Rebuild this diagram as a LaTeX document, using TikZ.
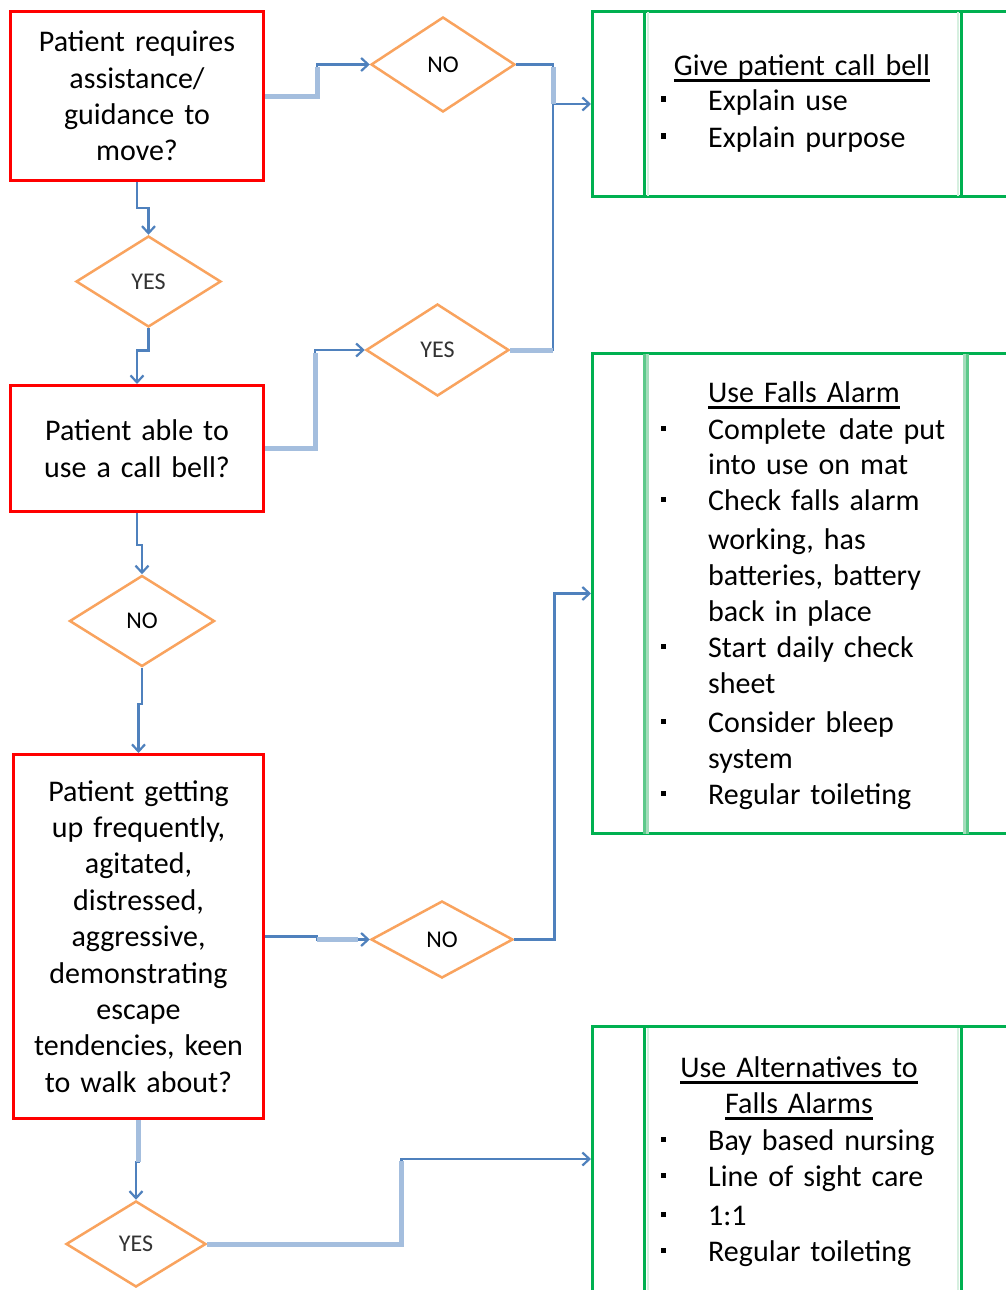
\documentclass[tikz,border=0pt]{standalone}
\usepackage{fontspec}
\setmainfont{Carlito}
\usetikzlibrary{shapes.geometric,arrows.meta,calc}

\definecolor{boxred}{HTML}{FF0000}
\definecolor{boxgreen}{HTML}{00B050}
\definecolor{greenmid}{HTML}{5CC98A}
\definecolor{greenpale}{HTML}{A3DDBB}
\definecolor{decorange}{HTML}{F9A35E}
\definecolor{flowblue}{HTML}{4F81BD}
\definecolor{flowpale}{HTML}{A4BEDE}

% underlined heading with a heavy rule
\newcommand\ulbox[1]{\leavevmode\setbox0\hbox{#1}\rlap{\rule[-6.5pt]{\wd0}{3pt}}\box0}
% square bullet and the matching indent for wrapped lines
\newcommand\bsq{\makebox[47.5pt][l]{\rule[8.5pt]{5pt}{5pt}}}
\newcommand\cont{\hspace*{47.5pt}}

\begin{document}
\begin{tikzpicture}[x=1pt,y=-1pt,
  question/.style={draw=boxred, line width=3pt, rectangle, inner sep=0pt,
    text width=250pt, align=center, font=\fontsize{30}{36.4}\selectfont},
  decision/.style={draw=decorange, line width=2.5pt, diamond, inner sep=0pt,
    font=\fontsize{24}{28}\selectfont},
  actionbox/.style={draw=boxgreen, line width=3pt, rectangle, inner sep=0pt,
    minimum width=447.5pt},
  heading/.style={anchor=base, inner sep=0pt, text width=300pt, align=center,
    font=\fontsize{30}{36}\selectfont},
  steps/.style={anchor=base west, inner sep=0pt, text width=320pt, align=left,
    font=\fontsize{30}{36}\selectfont},
  conn/.style={draw=flowblue, line width=2.5pt},
  connpale/.style={draw=flowpale, line width=5pt},
  tip/.style={-{Straight Barb[length=7pt,width=13pt,line width=2.2pt]}},
]
\useasboundingbox[fill=white] (0,0) rectangle (1006,1290);

% ---- questions ----
\node[question, minimum width=253pt, minimum height=169pt] (b1) at (137,96)
  {Patient requires\\assistance/\\guidance to\\move?};
\node[question, minimum width=253pt, minimum height=126pt] (b2) at (137,448.5)
  {Patient able to\\use a call bell?};
\node[question, minimum width=250pt, minimum height=364pt] (b3) at (138.5,936.5)
  {Patient getting\\up frequently,\\agitated,\\distressed,\\aggressive,\\demonstrating\\escape\\tendencies, keen\\to walk about?};

% ---- decisions ----
\node[decision, minimum width=144pt, minimum height=95pt] (d1) at (443,64.5) {NO};
\node[decision, minimum width=145pt, minimum height=91pt, text=black!80] (d2) at (148.5,281.5) {YES};
\node[decision, minimum width=143pt, minimum height=92pt, text=black!80] (d3) at (437.5,350) {YES};
\node[decision, minimum width=145pt, minimum height=91pt] (d4) at (142,621) {NO};
\node[decision, minimum width=142pt, minimum height=77pt] (d5) at (442,939.5) {NO};
\node[decision, minimum width=140pt, minimum height=86pt, text=black!80] (d6) at (136,1244) {YES};

% ---- action boxes ----
\node[actionbox, minimum height=185pt] (g1) at (816.25,104) {};
\node[actionbox, minimum height=480pt] (g2) at (816.25,593.5) {};
\node[actionbox, minimum height=265pt] (g3) at (816.25,1159) {};

% column dividers
\draw[greenpale!45, line width=2pt] (647.5,12) -- (647.5,196);
\draw[greenpale!45, line width=2pt] (957.5,12) -- (957.5,196);
\draw[boxgreen, line width=3pt] (644,11.5) -- (644,196.5);
\draw[boxgreen, line width=3pt] (961,11.5) -- (961,196.5);

\draw[greenmid, line width=3pt] (644,353.5) -- (644,833.5);
\draw[greenpale, line width=3.5pt] (647.3,353.5) -- (647.3,833.5);
\draw[greenpale, line width=3pt] (964.5,353.5) -- (964.5,833.5);
\draw[greenmid, line width=3pt] (967.5,353.5) -- (967.5,833.5);

\draw[greenpale!45, line width=2pt] (647.5,1028) -- (647.5,1290);
\draw[greenpale!45, line width=2pt] (957.5,1028) -- (957.5,1290);
\draw[boxgreen, line width=3pt] (644,1026.5) -- (644,1291.5);
\draw[boxgreen, line width=3pt] (961,1026.5) -- (961,1291.5);

% ---- action texts ----
\node[heading] (t1) at (802,76) {\ulbox{Give patient call bell}};
\node[steps] (l1) at (660.5,110) {\bsq Explain use\\[1pt]\bsq Explain purpose};

\node[heading] (t2) at (804,402.7) {\ulbox{Use Falls Alarm}};
\node[steps] (l2) at (660.5,439)
  {\bsq Complete\hspace{3pt} date put\\[-1pt]
   \cont into use on mat\\
   \bsq Check falls alarm\\[3pt]
   \cont working, has\\
   \cont batteries, battery\\
   \cont back in place\\
   \bsq Start daily check\\
   \cont sheet\\[3pt]
   \bsq Consider bleep\\
   \cont system\\
   \bsq Regular toileting};

\node[heading] (t3) at (799,1077) {\ulbox{Use Alternatives to}\\\ulbox{Falls Alarms}};
\node[steps] (l3) at (660.5,1150)
  {\bsq Bay based nursing\\
   \bsq Line of sight care\\[3pt]
   \bsq 1:1\\
   \bsq Regular toileting};

% ---- connectors ----
\coordinate (m1) at (553,104);

\draw[conn,tip] (b1.east) -- ++(52,0) |- (d1.west);
\draw[connpale] (b1.east) -- ++(52,0) -- ++(0,-29);

\draw[conn] (d1.east) -| (m1);
\draw[conn] (d3.east) -| (m1);
\draw[conn,tip] (m1) -- (g1.west);
\draw[connpale] (d1.east -| m1) ++(0,3) -- (m1);
\draw[connpale] (d3.east) -- (d3.east -| m1);

\draw[conn,tip] (b1.south) -- ++(0,26) -| (d2.north);
\draw[conn,tip] (d2.south) -- ++(0,22) -| (b2.north);

\draw[conn,tip] (b2.east) -- ++(50,0) |- (d3.west);
\draw[connpale] (b2.east) -- ++(50,0) -- ++(0,-96);

\draw[conn,tip] (b2.south) -- ++(0,32) -| (d4.north);
\draw[conn,tip] (d4.south) -- ++(0,36) -| (b3.north);

\coordinate (j8) at ($(b3.east)+(52,3)$);
\draw[conn,tip] (b3.east) -- ++(52,0) |- (d5.west);
\draw[connpale, shorten >=12pt] (j8) -- (d5.west);

\draw[conn,tip] (d5.east) -- ++(40,0) |- (g2.west);

\draw[conn,tip] (b3.south) -- ++(0,42) -| (d6.north);
\draw[connpale] (b3.south) -- ++(0,42);

\draw[conn,tip] (d6.east) -- ++(194,0) |- (g3.west);
\draw[connpale] (d6.east) -- ++(194,0) -- ++(0,-83);
\end{tikzpicture}
\end{document}
